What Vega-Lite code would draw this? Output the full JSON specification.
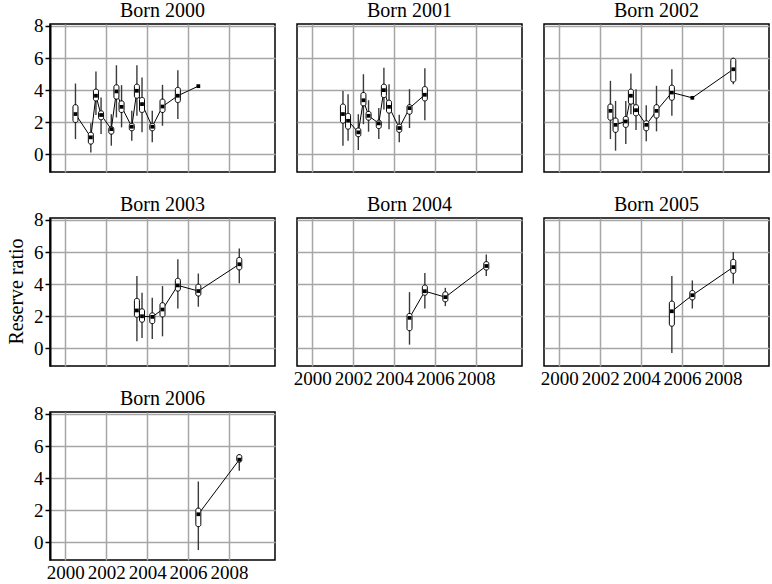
{
  "$schema": "https://vega.github.io/schema/vega-lite/v6.json",
  "background": "white",
  "padding": {"left": 6, "top": 0, "right": 2, "bottom": 0},
  "title": {"text": "Reserve ratio", "orient": "left", "anchor": "middle", "font": "Liberation Serif", "fontSize": 20, "fontWeight": "normal", "color": "black", "offset": 6},
  "data": {"values": [
    {"born": 2000, "t": 2000.5, "lo": 0.95, "q1": 1.99, "med": 2.51, "q3": 3.09, "hi": 4.41},
    {"born": 2000, "t": 2001.25, "lo": 0.12, "q1": 0.64, "med": 1.06, "q3": 1.37, "hi": 1.93},
    {"born": 2000, "t": 2001.5, "lo": 2.45, "q1": 3.33, "med": 3.65, "q3": 4.06, "hi": 5.16},
    {"born": 2000, "t": 2001.75, "lo": 1.26, "q1": 2.16, "med": 2.45, "q3": 2.71, "hi": 3.54},
    {"born": 2000, "t": 2002.25, "lo": 0.54, "q1": 1.26, "med": 1.57, "q3": 1.72, "hi": 2.5},
    {"born": 2000, "t": 2002.5, "lo": 2.3, "q1": 3.44, "med": 3.92, "q3": 4.33, "hi": 5.55},
    {"born": 2000, "t": 2002.75, "lo": 1.68, "q1": 2.61, "med": 2.96, "q3": 3.33, "hi": 4.31},
    {"born": 2000, "t": 2003.25, "lo": 0.85, "q1": 1.47, "med": 1.72, "q3": 1.93, "hi": 2.71},
    {"born": 2000, "t": 2003.5, "lo": 2.4, "q1": 3.5, "med": 3.96, "q3": 4.37, "hi": 5.55},
    {"born": 2000, "t": 2003.75, "lo": 1.37, "q1": 2.61, "med": 3.13, "q3": 3.54, "hi": 4.79},
    {"born": 2000, "t": 2004.25, "lo": 0.75, "q1": 1.47, "med": 1.72, "q3": 1.93, "hi": 2.71},
    {"born": 2000, "t": 2004.75, "lo": 1.78, "q1": 2.61, "med": 2.98, "q3": 3.44, "hi": 4.33},
    {"born": 2000, "t": 2005.5, "lo": 2.2, "q1": 3.23, "med": 3.65, "q3": 4.17, "hi": 5.24},
    {"born": 2000, "t": 2006.5, "lo": null, "q1": null, "med": 4.25, "q3": null, "hi": null},
    {"born": 2001, "t": 2001.5, "lo": 0.54, "q1": 1.95, "med": 2.51, "q3": 3.13, "hi": 3.95},
    {"born": 2001, "t": 2001.75, "lo": 0.85, "q1": 1.57, "med": 2.09, "q3": 2.55, "hi": 3.75},
    {"born": 2001, "t": 2002.25, "lo": 0.27, "q1": 1.1, "med": 1.37, "q3": 1.64, "hi": 2.5},
    {"born": 2001, "t": 2002.5, "lo": 1.88, "q1": 3.02, "med": 3.37, "q3": 3.85, "hi": 4.99},
    {"born": 2001, "t": 2002.75, "lo": 1.41, "q1": 2.13, "med": 2.4, "q3": 2.67, "hi": 3.37},
    {"born": 2001, "t": 2003.25, "lo": 0.95, "q1": 1.61, "med": 1.93, "q3": 2.13, "hi": 2.88},
    {"born": 2001, "t": 2003.5, "lo": 2.8, "q1": 3.54, "med": 4.0, "q3": 4.37, "hi": 5.4},
    {"born": 2001, "t": 2003.75, "lo": 1.57, "q1": 2.57, "med": 2.96, "q3": 3.37, "hi": 4.37},
    {"born": 2001, "t": 2004.25, "lo": 0.75, "q1": 1.37, "med": 1.64, "q3": 1.88, "hi": 2.46},
    {"born": 2001, "t": 2004.75, "lo": 1.64, "q1": 2.5, "med": 2.88, "q3": 3.09, "hi": 4.06},
    {"born": 2001, "t": 2005.5, "lo": 2.13, "q1": 3.33, "med": 3.71, "q3": 4.22, "hi": 5.36},
    {"born": 2002, "t": 2002.5, "lo": 0.95, "q1": 2.13, "med": 2.71, "q3": 3.13, "hi": 4.58},
    {"born": 2002, "t": 2002.75, "lo": 0.23, "q1": 1.37, "med": 1.84, "q3": 2.26, "hi": 3.33},
    {"born": 2002, "t": 2003.25, "lo": 0.64, "q1": 1.68, "med": 2.05, "q3": 2.36, "hi": 3.33},
    {"born": 2002, "t": 2003.5, "lo": 2.5, "q1": 3.13, "med": 3.65, "q3": 4.06, "hi": 5.03},
    {"born": 2002, "t": 2003.75, "lo": 1.51, "q1": 2.4, "med": 2.75, "q3": 3.09, "hi": 4.06},
    {"born": 2002, "t": 2004.25, "lo": 0.81, "q1": 1.47, "med": 1.84, "q3": 2.09, "hi": 3.06},
    {"born": 2002, "t": 2004.75, "lo": 1.43, "q1": 2.26, "med": 2.71, "q3": 3.09, "hi": 4.27},
    {"born": 2002, "t": 2005.5, "lo": 2.4, "q1": 3.37, "med": 3.85, "q3": 4.31, "hi": 5.3},
    {"born": 2002, "t": 2006.5, "lo": null, "q1": null, "med": 3.52, "q3": null, "hi": null},
    {"born": 2002, "t": 2008.5, "lo": 4.37, "q1": 4.51, "med": 5.3, "q3": 5.98, "hi": 6.02},
    {"born": 2003, "t": 2003.5, "lo": 0.44, "q1": 1.94, "med": 2.36, "q3": 3.11, "hi": 4.51},
    {"born": 2003, "t": 2003.75, "lo": 0.65, "q1": 1.63, "med": 2.0, "q3": 2.46, "hi": 3.47},
    {"born": 2003, "t": 2004.25, "lo": 0.58, "q1": 1.54, "med": 1.96, "q3": 2.21, "hi": 3.15},
    {"born": 2003, "t": 2004.75, "lo": 0.75, "q1": 1.96, "med": 2.42, "q3": 2.84, "hi": 3.88},
    {"born": 2003, "t": 2005.5, "lo": 2.48, "q1": 3.57, "med": 3.92, "q3": 4.36, "hi": 5.55},
    {"born": 2003, "t": 2006.5, "lo": 2.59, "q1": 3.26, "med": 3.57, "q3": 3.99, "hi": 4.66},
    {"born": 2003, "t": 2008.5, "lo": 4.05, "q1": 4.89, "med": 5.24, "q3": 5.66, "hi": 6.22},
    {"born": 2004, "t": 2004.75, "lo": 0.23, "q1": 1.1, "med": 1.9, "q3": 2.17, "hi": 3.5},
    {"born": 2004, "t": 2005.5, "lo": 2.48, "q1": 3.31, "med": 3.56, "q3": 3.94, "hi": 4.69},
    {"born": 2004, "t": 2006.5, "lo": 2.63, "q1": 2.9, "med": 3.19, "q3": 3.52, "hi": 3.77},
    {"born": 2004, "t": 2008.5, "lo": 4.5, "q1": 4.88, "med": 5.13, "q3": 5.4, "hi": 5.85},
    {"born": 2005, "t": 2005.5, "lo": -0.29, "q1": 1.38, "med": 2.31, "q3": 2.94, "hi": 4.5},
    {"born": 2005, "t": 2006.5, "lo": 2.48, "q1": 3.02, "med": 3.31, "q3": 3.6, "hi": 4.23},
    {"born": 2005, "t": 2008.5, "lo": 4.02, "q1": 4.67, "med": 5.06, "q3": 5.54, "hi": 6.0},
    {"born": 2006, "t": 2006.5, "lo": -0.48, "q1": 0.98, "med": 1.75, "q3": 2.13, "hi": 3.79},
    {"born": 2006, "t": 2008.5, "lo": 4.46, "q1": 5.0, "med": 5.15, "q3": 5.46, "hi": 5.5}
  ]},
  "columns": 3,
  "bounds": "flush",
  "spacing": {"row": 46, "column": 22},
  "concat": [
    {
      "title": {"text": "Born 2000", "offset": -4},
      "transform": [{"filter": "datum.born == 2000"}],
      "width": 225, "height": 148,
      "encoding": {
        "x": {"field": "t", "type": "quantitative", "scale": {"domain": [1999.5, 2010], "nice": false, "zero": false},
          "axis": {"title": null, "values": [2000, 2002, 2004, 2006, 2008], "labels": false, "ticks": false, "domain": false}},
        "y": {"field": "med", "type": "quantitative", "scale": {"domain": [-1.1, 8.12], "nice": false, "zero": false},
          "axis": {"title": null, "values": [0, 2, 4, 6, 8], "domain": true, "domainColor": "black", "domainWidth": 2, "ticks": true, "tickColor": "black", "tickSize": 5, "tickWidth": 1.5, "labelPadding": 2}}
      },
      "layer": [
        {"mark": {"type": "rule", "color": "#3a3a3a", "strokeWidth": 1.4},
         "encoding": {"y": {"field": "lo", "type": "quantitative", "scale": {"domain": [-1.1, 8.12], "nice": false, "zero": false},
           "axis": {"title": null, "values": [0, 2, 4, 6, 8], "domain": true, "domainColor": "black", "domainWidth": 2, "ticks": true, "tickColor": "black", "tickSize": 5, "tickWidth": 1.5, "labelPadding": 2}}, "y2": {"field": "hi"}}},
        {"mark": {"type": "line", "color": "black", "strokeWidth": 1}},
        {"mark": {"type": "bar", "size": 5, "fill": "white", "stroke": "black", "strokeWidth": 1, "cornerRadius": 2},
         "encoding": {"y": {"field": "q1", "type": "quantitative", "scale": {"domain": [-1.1, 8.12], "nice": false, "zero": false},
           "axis": {"title": null, "values": [0, 2, 4, 6, 8], "domain": true, "domainColor": "black", "domainWidth": 2, "ticks": true, "tickColor": "black", "tickSize": 5, "tickWidth": 1.5, "labelPadding": 2}}, "y2": {"field": "q3"}}},
        {"mark": {"type": "point", "shape": "square", "filled": true, "color": "black", "size": 14, "opacity": 1}}
      ]
    },
    {
      "title": "Born 2001",
      "transform": [{"filter": "datum.born == 2001"}],
      "width": 225, "height": 148,
      "encoding": {
        "x": {"field": "t", "type": "quantitative", "scale": {"domain": [1999.5, 2010], "nice": false, "zero": false},
          "axis": {"title": null, "values": [2000, 2002, 2004, 2006, 2008], "labels": false, "ticks": false, "domain": false}},
        "y": {"field": "med", "type": "quantitative", "scale": {"domain": [-1.1, 8.12], "nice": false, "zero": false},
          "axis": {"title": null, "values": [0, 2, 4, 6, 8], "labels": false, "ticks": false, "domain": false}}
      },
      "layer": [
        {"mark": {"type": "rule", "color": "#3a3a3a", "strokeWidth": 1.4},
         "encoding": {"y": {"field": "lo", "type": "quantitative", "scale": {"domain": [-1.1, 8.12], "nice": false, "zero": false},
           "axis": {"title": null, "values": [0, 2, 4, 6, 8], "labels": false, "ticks": false, "domain": false}}, "y2": {"field": "hi"}}},
        {"mark": {"type": "line", "color": "black", "strokeWidth": 1}},
        {"mark": {"type": "bar", "size": 5, "fill": "white", "stroke": "black", "strokeWidth": 1, "cornerRadius": 2},
         "encoding": {"y": {"field": "q1", "type": "quantitative", "scale": {"domain": [-1.1, 8.12], "nice": false, "zero": false},
           "axis": {"title": null, "values": [0, 2, 4, 6, 8], "labels": false, "ticks": false, "domain": false}}, "y2": {"field": "q3"}}},
        {"mark": {"type": "point", "shape": "square", "filled": true, "color": "black", "size": 14, "opacity": 1}}
      ]
    },
    {
      "title": "Born 2002",
      "transform": [{"filter": "datum.born == 2002"}],
      "width": 225, "height": 148,
      "encoding": {
        "x": {"field": "t", "type": "quantitative", "scale": {"domain": [1999.5, 2010], "nice": false, "zero": false},
          "axis": {"title": null, "values": [2000, 2002, 2004, 2006, 2008], "labels": false, "ticks": false, "domain": false}},
        "y": {"field": "med", "type": "quantitative", "scale": {"domain": [-1.1, 8.12], "nice": false, "zero": false},
          "axis": {"title": null, "values": [0, 2, 4, 6, 8], "labels": false, "ticks": false, "domain": false}}
      },
      "layer": [
        {"mark": {"type": "rule", "color": "#3a3a3a", "strokeWidth": 1.4},
         "encoding": {"y": {"field": "lo", "type": "quantitative", "scale": {"domain": [-1.1, 8.12], "nice": false, "zero": false},
           "axis": {"title": null, "values": [0, 2, 4, 6, 8], "labels": false, "ticks": false, "domain": false}}, "y2": {"field": "hi"}}},
        {"mark": {"type": "line", "color": "black", "strokeWidth": 1}},
        {"mark": {"type": "bar", "size": 5, "fill": "white", "stroke": "black", "strokeWidth": 1, "cornerRadius": 2},
         "encoding": {"y": {"field": "q1", "type": "quantitative", "scale": {"domain": [-1.1, 8.12], "nice": false, "zero": false},
           "axis": {"title": null, "values": [0, 2, 4, 6, 8], "labels": false, "ticks": false, "domain": false}}, "y2": {"field": "q3"}}},
        {"mark": {"type": "point", "shape": "square", "filled": true, "color": "black", "size": 14, "opacity": 1}}
      ]
    },
    {
      "title": {"text": "Born 2003", "offset": -4},
      "transform": [{"filter": "datum.born == 2003"}],
      "width": 225, "height": 148,
      "encoding": {
        "x": {"field": "t", "type": "quantitative", "scale": {"domain": [1999.5, 2010], "nice": false, "zero": false},
          "axis": {"title": null, "values": [2000, 2002, 2004, 2006, 2008], "labels": false, "ticks": false, "domain": false}},
        "y": {"field": "med", "type": "quantitative", "scale": {"domain": [-1.1, 8.12], "nice": false, "zero": false},
          "axis": {"title": null, "values": [0, 2, 4, 6, 8], "domain": true, "domainColor": "black", "domainWidth": 2, "ticks": true, "tickColor": "black", "tickSize": 5, "tickWidth": 1.5, "labelPadding": 2}}
      },
      "layer": [
        {"mark": {"type": "rule", "color": "#3a3a3a", "strokeWidth": 1.4},
         "encoding": {"y": {"field": "lo", "type": "quantitative", "scale": {"domain": [-1.1, 8.12], "nice": false, "zero": false},
           "axis": {"title": null, "values": [0, 2, 4, 6, 8], "domain": true, "domainColor": "black", "domainWidth": 2, "ticks": true, "tickColor": "black", "tickSize": 5, "tickWidth": 1.5, "labelPadding": 2}}, "y2": {"field": "hi"}}},
        {"mark": {"type": "line", "color": "black", "strokeWidth": 1}},
        {"mark": {"type": "bar", "size": 5, "fill": "white", "stroke": "black", "strokeWidth": 1, "cornerRadius": 2},
         "encoding": {"y": {"field": "q1", "type": "quantitative", "scale": {"domain": [-1.1, 8.12], "nice": false, "zero": false},
           "axis": {"title": null, "values": [0, 2, 4, 6, 8], "domain": true, "domainColor": "black", "domainWidth": 2, "ticks": true, "tickColor": "black", "tickSize": 5, "tickWidth": 1.5, "labelPadding": 2}}, "y2": {"field": "q3"}}},
        {"mark": {"type": "point", "shape": "square", "filled": true, "color": "black", "size": 14, "opacity": 1}}
      ]
    },
    {
      "title": "Born 2004",
      "transform": [{"filter": "datum.born == 2004"}],
      "width": 225, "height": 148,
      "encoding": {
        "x": {"field": "t", "type": "quantitative", "scale": {"domain": [1999.5, 2010], "nice": false, "zero": false},
          "axis": {"title": null, "values": [2000, 2002, 2004, 2006, 2008], "format": "d", "ticks": false, "domain": false, "labelPadding": 3}},
        "y": {"field": "med", "type": "quantitative", "scale": {"domain": [-1.1, 8.12], "nice": false, "zero": false},
          "axis": {"title": null, "values": [0, 2, 4, 6, 8], "labels": false, "ticks": false, "domain": false}}
      },
      "layer": [
        {"mark": {"type": "rule", "color": "#3a3a3a", "strokeWidth": 1.4},
         "encoding": {"y": {"field": "lo", "type": "quantitative", "scale": {"domain": [-1.1, 8.12], "nice": false, "zero": false},
           "axis": {"title": null, "values": [0, 2, 4, 6, 8], "labels": false, "ticks": false, "domain": false}}, "y2": {"field": "hi"}}},
        {"mark": {"type": "line", "color": "black", "strokeWidth": 1}},
        {"mark": {"type": "bar", "size": 5, "fill": "white", "stroke": "black", "strokeWidth": 1, "cornerRadius": 2},
         "encoding": {"y": {"field": "q1", "type": "quantitative", "scale": {"domain": [-1.1, 8.12], "nice": false, "zero": false},
           "axis": {"title": null, "values": [0, 2, 4, 6, 8], "labels": false, "ticks": false, "domain": false}}, "y2": {"field": "q3"}}},
        {"mark": {"type": "point", "shape": "square", "filled": true, "color": "black", "size": 14, "opacity": 1}}
      ]
    },
    {
      "title": "Born 2005",
      "transform": [{"filter": "datum.born == 2005"}],
      "width": 225, "height": 148,
      "encoding": {
        "x": {"field": "t", "type": "quantitative", "scale": {"domain": [1999.5, 2010], "nice": false, "zero": false},
          "axis": {"title": null, "values": [2000, 2002, 2004, 2006, 2008], "format": "d", "ticks": false, "domain": false, "labelPadding": 3}},
        "y": {"field": "med", "type": "quantitative", "scale": {"domain": [-1.1, 8.12], "nice": false, "zero": false},
          "axis": {"title": null, "values": [0, 2, 4, 6, 8], "labels": false, "ticks": false, "domain": false}}
      },
      "layer": [
        {"mark": {"type": "rule", "color": "#3a3a3a", "strokeWidth": 1.4},
         "encoding": {"y": {"field": "lo", "type": "quantitative", "scale": {"domain": [-1.1, 8.12], "nice": false, "zero": false},
           "axis": {"title": null, "values": [0, 2, 4, 6, 8], "labels": false, "ticks": false, "domain": false}}, "y2": {"field": "hi"}}},
        {"mark": {"type": "line", "color": "black", "strokeWidth": 1}},
        {"mark": {"type": "bar", "size": 5, "fill": "white", "stroke": "black", "strokeWidth": 1, "cornerRadius": 2},
         "encoding": {"y": {"field": "q1", "type": "quantitative", "scale": {"domain": [-1.1, 8.12], "nice": false, "zero": false},
           "axis": {"title": null, "values": [0, 2, 4, 6, 8], "labels": false, "ticks": false, "domain": false}}, "y2": {"field": "q3"}}},
        {"mark": {"type": "point", "shape": "square", "filled": true, "color": "black", "size": 14, "opacity": 1}}
      ]
    },
    {
      "title": {"text": "Born 2006", "offset": -4},
      "transform": [{"filter": "datum.born == 2006"}],
      "width": 225, "height": 148,
      "encoding": {
        "x": {"field": "t", "type": "quantitative", "scale": {"domain": [1999.5, 2010], "nice": false, "zero": false},
          "axis": {"title": null, "values": [2000, 2002, 2004, 2006, 2008], "format": "d", "ticks": false, "domain": false, "labelPadding": 3}},
        "y": {"field": "med", "type": "quantitative", "scale": {"domain": [-1.1, 8.12], "nice": false, "zero": false},
          "axis": {"title": null, "values": [0, 2, 4, 6, 8], "domain": true, "domainColor": "black", "domainWidth": 2, "ticks": true, "tickColor": "black", "tickSize": 5, "tickWidth": 1.5, "labelPadding": 2}}
      },
      "layer": [
        {"mark": {"type": "rule", "color": "#3a3a3a", "strokeWidth": 1.4},
         "encoding": {"y": {"field": "lo", "type": "quantitative", "scale": {"domain": [-1.1, 8.12], "nice": false, "zero": false},
           "axis": {"title": null, "values": [0, 2, 4, 6, 8], "domain": true, "domainColor": "black", "domainWidth": 2, "ticks": true, "tickColor": "black", "tickSize": 5, "tickWidth": 1.5, "labelPadding": 2}}, "y2": {"field": "hi"}}},
        {"mark": {"type": "line", "color": "black", "strokeWidth": 1}},
        {"mark": {"type": "bar", "size": 5, "fill": "white", "stroke": "black", "strokeWidth": 1, "cornerRadius": 2},
         "encoding": {"y": {"field": "q1", "type": "quantitative", "scale": {"domain": [-1.1, 8.12], "nice": false, "zero": false},
           "axis": {"title": null, "values": [0, 2, 4, 6, 8], "domain": true, "domainColor": "black", "domainWidth": 2, "ticks": true, "tickColor": "black", "tickSize": 5, "tickWidth": 1.5, "labelPadding": 2}}, "y2": {"field": "q3"}}},
        {"mark": {"type": "point", "shape": "square", "filled": true, "color": "black", "size": 14, "opacity": 1}}
      ]
    }
  ],
  "config": {
    "font": "Liberation Serif",
    "view": {"stroke": "black", "strokeWidth": 1.5},
    "title": {"font": "Liberation Serif", "fontSize": 20, "fontWeight": "normal", "color": "black", "offset": 3, "anchor": "middle"},
    "axis": {
      "labelFont": "Liberation Serif", "labelFontSize": 19, "labelColor": "black", "labelOverlap": false, "labelBound": false, "labelFlush": false,
      "grid": true, "gridColor": "#a6a6a6", "gridWidth": 1.5, "gridOpacity": 1
    },
    "axisX": {"labelFont": "Liberation Serif"},
    "axisY": {"labelFont": "Liberation Serif"}
  }
}
